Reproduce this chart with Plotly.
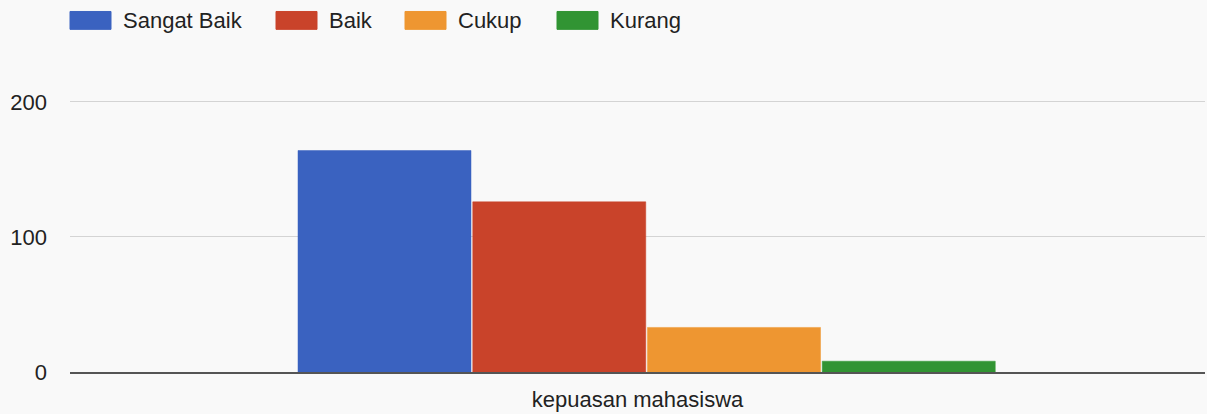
import plotly.graph_objects as go

categories = ["kepuasan mahasiswa"]
series_names = ["Sangat Baik", "Baik", "Cukup", "Kurang"]
series_values = [[164], [126], [33], [8]]
series_colors = ["#3a62c0", "#c9432a", "#ee9631", "#319433"]
y_ticks = [0, 100, 200]

W, H = 1207, 414
L, R, T, B = 70, 2, 80, 40
PW = W - L - R
PH = H - T - B

group_start = (298 - (L + PW / 2)) / PW
slot = (997 - 298) / 4 / PW

fig = go.Figure()
for i, (name, vals, col) in enumerate(zip(series_names, series_values, series_colors)):
    fig.add_trace(go.Bar(
        x=categories, y=vals, name=name,
        offset=group_start + i * slot, width=slot * 0.99,
        marker=dict(color=col, line=dict(color=col, width=0.5)),
        showlegend=False,
    ))

# custom legend (swatches + labels)
legend_x_px = [70, 276, 405, 557]
shapes = []
annotations = []
for name, col, px in zip(series_names, series_colors, legend_x_px):
    x0 = (px - L) / PW
    x1 = (px + 41 - L) / PW
    shapes.append(dict(type="rect", xref="paper", yref="paper",
                       x0=x0, x1=x1, y0=1 + (T - 29) / PH, y1=1 + (T - 11) / PH,
                       fillcolor=col, line=dict(color=col, width=1)))
    annotations.append(dict(text=name, xref="paper", yref="paper",
                            x=(px + 51 - L) / PW, y=1 + (T - 20) / PH,
                            xanchor="left", yanchor="middle", showarrow=False,
                            font=dict(size=22, color="#222222")))

fig.update_layout(
    width=W, height=H,
    margin=dict(l=L, r=R, t=T, b=B),
    paper_bgcolor="#f9f9f9", plot_bgcolor="#f9f9f9",
    barmode="overlay",
    font=dict(family="Liberation Sans, Arial, sans-serif", size=22, color="#222222"),
    shapes=shapes, annotations=annotations,
    xaxis=dict(range=[-0.5, 0.5], showgrid=False, showline=True,
               linecolor="#555555", linewidth=2, ticks="", ticklabelstandoff=7,
               tickfont=dict(size=22, color="#222222")),
    yaxis=dict(range=[0, 216.2], tickvals=y_ticks, showgrid=True, gridcolor="#d4d4d4",
               gridwidth=1, zeroline=False, ticklabelstandoff=22,
               tickfont=dict(size=22, color="#222222")),
)

fig.write_html("out.html", config={"displayModeBar": False},
               post_script="document.body.style.margin='0';document.body.style.background='#f9f9f9';")
